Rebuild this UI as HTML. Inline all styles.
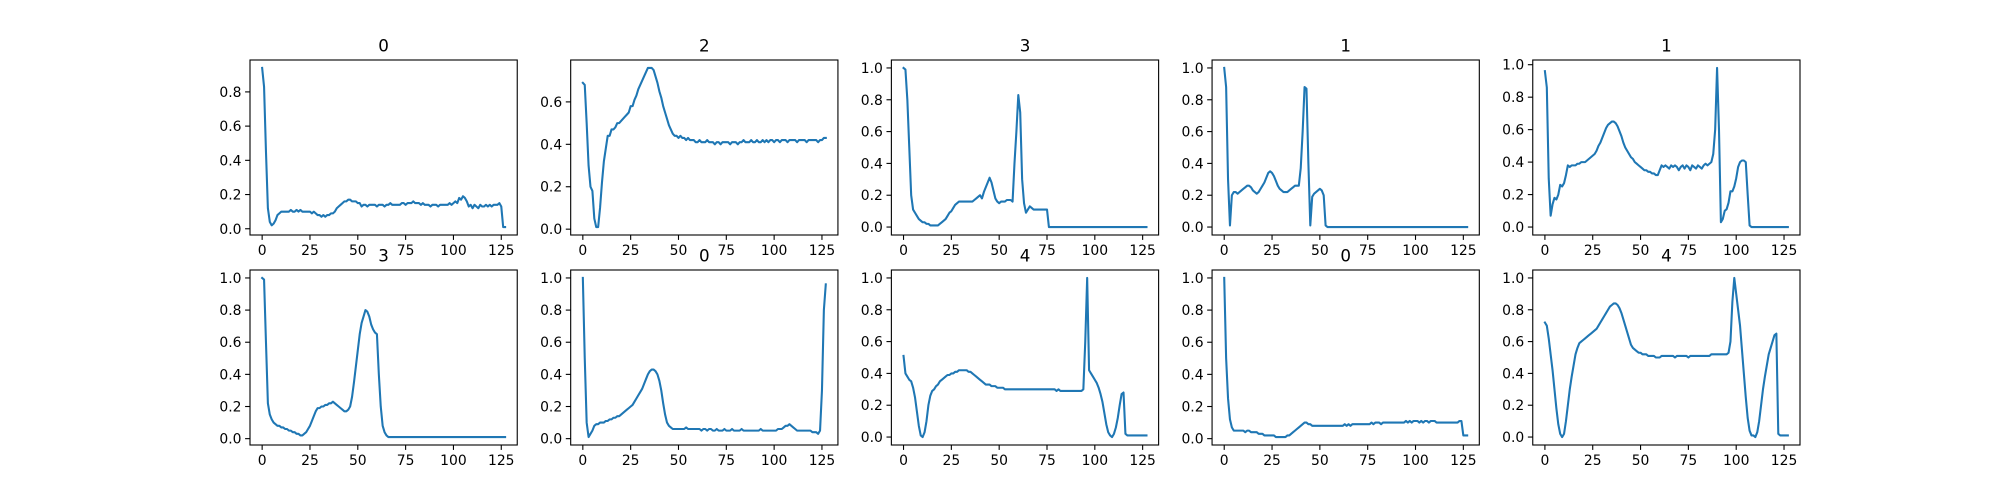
<!DOCTYPE html>
<html><head><meta charset="utf-8"><style>
html,body{margin:0;padding:0;background:#fff;}
svg{display:block;font-family:"DejaVu Sans","Liberation Sans",sans-serif;}
</style></head>
<body>
<svg id="fig" width="2000" height="500" viewBox="0 0 2000 500" xmlns="http://www.w3.org/2000/svg"></svg>
<script>
const titles = ["0","2","3","1","1","3","0","4","0","4"];
const xTicks = [0,25,50,75,100,125];
const yTickLabels = ["0.0","0.2","0.4","0.6","0.8","1.0"];
const s0 = [.94,.83,.45,.12,.04,.02,.03,.05,.08,.09, .10,.10,.10,.10,.10,.11,.10,.10,.11,.10, .11,.10,.10,.10,.10,.10,.09,.10,.09,.08, .08,.07,.08,.07,.08,.08,.09,.09,.10,.12, .13,.14,.15,.16,.16,.17,.17,.16,.16,.16, .15,.15,.13,.14,.14,.13,.14,.14,.14,.14, .13,.14,.14,.14,.13,.14,.14,.15,.14,.14, .14,.14,.14,.15,.15,.14,.15,.15,.15,.16, .15,.15,.15,.14,.15,.14,.14,.14,.13,.14, .14,.14,.13,.14,.14,.14,.14,.14,.15,.14, .15,.16,.15,.18,.17,.19,.18,.16,.13,.14, .12,.14,.13,.12,.14,.13,.13,.14,.13,.14, .13,.14,.14,.14,.15,.13,.01,.01];
const s1 = [.69,.68,.5,.3,.2,.18,.05,.01,.01,.1, .22,.32,.38,.44,.44,.47,.47,.48,.50,.50, .51,.52,.53,.54,.55,.58,.58,.61,.63,.66, .68,.70,.72,.74,.76,.76,.76,.75,.72,.69, .65,.62,.58,.55,.52,.49,.47,.45,.44,.44, .43,.44,.43,.43,.42,.43,.42,.42,.42,.41, .41,.42,.41,.41,.41,.42,.41,.41,.41,.40, .41,.41,.40,.41,.41,.41,.41,.40,.41,.41, .41,.40,.41,.41,.42,.41,.41,.41,.42,.41, .41,.42,.41,.41,.42,.41,.42,.41,.42,.42, .41,.42,.42,.41,.42,.42,.42,.41,.42,.42, .42,.42,.41,.42,.42,.42,.42,.41,.42,.42, .42,.42,.42,.41,.42,.42,.43,.43];
const s2 = [1.0,.99,.8,.5,.2,.11,.09,.07,.05,.04, .03,.03,.02,.02,.01,.01,.01,.01,.01,.02, .03,.04,.05,.07,.09,.10,.12,.14,.15,.16, .16,.16,.16,.16,.16,.16,.16,.17,.18,.19, .20,.18,.22,.25,.28,.31,.28,.23,.18,.16, .15,.16,.16,.16,.17,.17,.17,.16,.4,.6, .83,.72,.3,.15,.09,.11,.13,.12,.11,.11, .11,.11,.11,.11,.11,.11,0,0,0,0, 0,0,0,0,0,0,0,0,0,0, 0,0,0,0,0,0,0,0,0,0, 0,0,0,0,0,0,0,0,0,0, 0,0,0,0,0,0,0,0,0,0, 0,0,0,0,0,0,0,0];
const s3 = [1.0,.88,.3,.01,.2,.22,.22,.21,.22,.23, .24,.25,.26,.26,.25,.23,.22,.21,.22,.24, .26,.28,.31,.34,.35,.34,.32,.29,.26,.24, .23,.22,.22,.22,.23,.24,.25,.26,.26,.26, .37,.6,.88,.87,.4,.01,.19,.21,.22,.23, .24,.23,.2,.01,0,0,0,0,0,0, 0,0,0,0,0,0,0,0,0,0, 0,0,0,0,0,0,0,0,0,0, 0,0,0,0,0,0,0,0,0,0, 0,0,0,0,0,0,0,0,0,0, 0,0,0,0,0,0,0,0,0,0, 0,0,0,0,0,0,0,0,0,0, 0,0,0,0,0,0,0,0];
const s4 = [.96,.86,.3,.07,.14,.18,.17,.2,.26,.25, .27,.32,.38,.37,.38,.38,.38,.39,.39,.40, .40,.40,.41,.42,.43,.44,.45,.47,.50,.52, .55,.58,.61,.63,.64,.65,.65,.64,.62,.59, .56,.52,.49,.47,.45,.43,.42,.40,.39,.38, .37,.36,.35,.35,.34,.34,.33,.33,.32,.32, .35,.38,.37,.38,.37,.36,.38,.37,.38,.37, .35,.37,.38,.36,.38,.37,.35,.38,.37,.36, .38,.37,.36,.38,.39,.38,.39,.40,.45,.6, .98,.6,.03,.05,.1,.11,.15,.22,.22,.25, .3,.37,.40,.41,.41,.40,.2,.01,0,0, 0,0,0,0,0,0,0,0,0,0, 0,0,0,0,0,0,0,0];
const s5 = [1.0,.99,.6,.22,.15,.12,.10,.09,.08,.08, .07,.07,.06,.06,.05,.05,.04,.04,.03,.03, .02,.02,.03,.04,.06,.08,.11,.14,.17,.19, .19,.20,.20,.21,.21,.22,.22,.23,.22,.21, .20,.19,.18,.17,.17,.18,.20,.26,.35,.45, .55,.65,.72,.76,.80,.79,.76,.71,.68,.66, .65,.4,.2,.08,.04,.02,.01,.01,.01,.01, .01,.01,.01,.01,.01,.01,.01,.01,.01,.01, .01,.01,.01,.01,.01,.01,.01,.01,.01,.01, .01,.01,.01,.01,.01,.01,.01,.01,.01,.01, .01,.01,.01,.01,.01,.01,.01,.01,.01,.01, .01,.01,.01,.01,.01,.01,.01,.01,.01,.01, .01,.01,.01,.01,.01,.01,.01,.01];
const s6 = [1.0,.5,.1,.01,.03,.05,.08,.09,.09,.10, .10,.10,.11,.11,.12,.12,.13,.13,.14,.14, .15,.16,.17,.18,.19,.20,.21,.23,.25,.27, .29,.31,.34,.37,.40,.42,.43,.43,.42,.40, .36,.3,.22,.15,.1,.08,.07,.06,.06,.06, .06,.06,.06,.06,.07,.06,.06,.06,.06,.06, .06,.06,.05,.06,.06,.05,.06,.06,.05,.05, .06,.05,.05,.05,.06,.05,.05,.05,.06,.05, .05,.05,.05,.06,.05,.05,.05,.05,.05,.05, .05,.05,.05,.06,.05,.05,.05,.05,.05,.05, .05,.05,.06,.06,.06,.07,.08,.08,.09,.08, .07,.06,.05,.05,.05,.05,.05,.05,.05,.05, .04,.04,.04,.03,.05,.3,.8,.96];
const s7 = [.51,.4,.38,.36,.35,.31,.25,.16,.07,.01, .0,.03,.1,.2,.26,.29,.3,.32,.33,.35, .36,.37,.38,.39,.39,.40,.40,.41,.41,.42, .42,.42,.42,.42,.41,.41,.40,.39,.38,.37, .36,.35,.34,.33,.33,.33,.32,.32,.32,.31, .31,.31,.31,.30,.30,.30,.30,.30,.30,.30, .30,.30,.30,.30,.30,.30,.30,.30,.30,.30, .30,.30,.30,.30,.30,.30,.30,.30,.30,.30, .29,.30,.29,.29,.29,.29,.29,.29,.29,.29, .29,.29,.29,.29,.30,.6,1.0,.42,.4,.38, .36,.34,.31,.27,.22,.15,.08,.03,.01,.0, .02,.06,.12,.2,.27,.28,.02,.01,.01,.01, .01,.01,.01,.01,.01,.01,.01,.01];
const s8 = [1.0,.5,.25,.12,.07,.05,.05,.05,.05,.05, .05,.04,.05,.05,.04,.04,.04,.04,.03,.03, .03,.02,.02,.02,.02,.02,.02,.01,.01,.01, .01,.01,.01,.02,.02,.03,.04,.05,.06,.07, .08,.09,.10,.10,.09,.09,.08,.08,.08,.08, .08,.08,.08,.08,.08,.08,.08,.08,.08,.08, .08,.08,.08,.09,.08,.09,.08,.09,.09,.09, .09,.09,.09,.09,.09,.09,.09,.10,.09,.10, .10,.10,.09,.10,.10,.10,.10,.10,.10,.10, .10,.10,.10,.10,.10,.11,.10,.11,.10,.11, .11,.11,.10,.11,.10,.11,.11,.10,.11,.11, .11,.10,.10,.10,.10,.10,.10,.10,.10,.10, .10,.10,.10,.11,.11,.02,.02,.02];
const s9 = [.72,.7,.62,.52,.42,.3,.18,.08,.02,.0, .02,.1,.2,.3,.38,.45,.52,.56,.59,.6, .61,.62,.63,.64,.65,.66,.67,.68,.70,.72, .74,.76,.78,.80,.82,.83,.84,.84,.83,.81, .78,.74,.7,.66,.62,.58,.56,.55,.54,.53, .53,.52,.52,.52,.51,.51,.51,.51,.50,.50, .50,.51,.51,.51,.51,.51,.51,.51,.50,.51, .51,.51,.51,.51,.51,.50,.51,.51,.51,.51, .51,.51,.51,.51,.51,.51,.51,.52,.52,.52, .52,.52,.52,.52,.52,.52,.53,.6,.85,1.0, .9,.8,.7,.55,.4,.25,.12,.04,.01,.01, .0,.03,.1,.2,.3,.38,.45,.52,.56,.6, .64,.65,.02,.01,.01,.01,.01,.01];
const series = [s0,s1,s2,s3,s4,s5,s6,s7,s8,s9];

const NS = "http://www.w3.org/2000/svg";
const svg = document.getElementById("fig");
function mk(tag, attrs, parent){const e=document.createElementNS(NS,tag);for(const k in attrs)e.setAttribute(k,attrs[k]);(parent||svg).appendChild(e);return e;}
const L=250, R=1800, T=60, B=445;
const aw=(R-L)/(5+4*0.2), ah=(B-T)/(2+0.2);
for(let i=0;i<10;i++){
  const row=Math.floor(i/5), col=i%5;
  const x0=L+col*aw*1.2, y0=T+row*ah*1.2;
  const d=series[i];
  const g=mk("g",{});
  
  
  let mn=Math.min(...d), mx=Math.max(...d), rg=mx-mn;
  const ylo=mn-0.05*rg, yhi=mx+0.05*rg;
  const xlo=-0.05*(d.length-1), xhi=(d.length-1)*1.05;
  const sx=v=>x0+(v-xlo)/(xhi-xlo)*aw;
  const sy=v=>y0+ah-(v-ylo)/(yhi-ylo)*ah;
  // x ticks
  xTicks.forEach(t=>{
    const X=sx(t);
    const tk=mk("line",{x1:X,x2:X,y1:y0+ah,y2:y0+ah+4.9,stroke:"#000","stroke-width":1.1},g);
    
    
    const tx=mk("text",{x:X,y:y0+ah+20,"font-size":13.9,"text-anchor":"middle",fill:"#000"},g);
    
    
    tx.textContent=t;
  });
  yTickLabels.forEach(lbl=>{
    const t=parseFloat(lbl);
    if(t<ylo-1e-9||t>yhi+1e-9)return;
    const Y=sy(t);
    const tk=mk("line",{x1:x0-4.9,x2:x0,y1:Y,y2:Y,stroke:"#000","stroke-width":1.1},g);
    
    
    const tx=mk("text",{x:x0-8.5,y:Y+5,"font-size":13.9,"text-anchor":"end",fill:"#000"},g);
    
    
    tx.textContent=lbl;
  });
  const pts=d.map((v,k)=>sx(k).toFixed(2)+","+sy(v).toFixed(2)).join(" ");
  const pl=mk("polyline",{points:pts,fill:"none",stroke:"#1f77b4","stroke-width":2.08,"stroke-linejoin":"round","stroke-linecap":"square"},g);
  
  
  const fr=mk("rect",{x:x0,y:y0,width:aw,height:ah,fill:"none",stroke:"#000","stroke-width":1.1},g);
  
  
  const ti=mk("text",{x:x0+aw/2,y:y0-8.5,"font-size":16.7,"text-anchor":"middle",fill:"#000"},g);
  
  
  ti.textContent=titles[i];
}
</script>
</body></html>
